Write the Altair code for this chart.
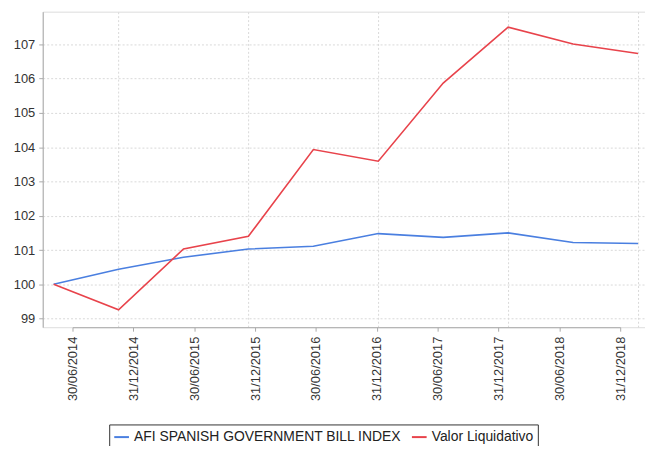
import altair as alt
import pandas as pd

dates = ["30/06/2014", "31/12/2014", "30/06/2015", "31/12/2015", "30/06/2016",
         "31/12/2016", "30/06/2017", "31/12/2017", "30/06/2018", "31/12/2018"]
afi = [100.0, 100.44, 100.79, 101.03, 101.11, 101.48, 101.37, 101.5, 101.22, 101.19]
valor = [100.0, 99.26, 101.03, 101.4, 103.93, 103.59, 105.87, 107.5, 107.01, 106.73]
series_names = ["AFI SPANISH GOVERNMENT BILL INDEX", "Valor Liquidativo"]
colors = ["#4a7fe0", "#e8434b"]

rows = []
for i, d in enumerate(dates):
    rows.append({"idx": i, "date": d, "series": series_names[0], "value": afi[i]})
    rows.append({"idx": i, "date": d, "series": series_names[1], "value": valor[i]})
df = pd.DataFrame(rows)
df_labels = pd.DataFrame({"date": dates})

FONT = "Liberation Sans"

lines = alt.Chart(df).mark_line(strokeWidth=1.6).encode(
    x=alt.X("idx:Q",
            scale=alt.Scale(domain=[-0.168, 9.108], nice=False, zero=False),
            axis=alt.Axis(orient="bottom", values=[1, 3, 5, 7, 9], labels=False,
                          ticks=False, domain=False, grid=True, gridDash=[2, 2],
                          gridColor="#d9d9d9", title=None)),
    y=alt.Y("value:Q",
            scale=alt.Scale(domain=[98.75, 107.95], nice=False, zero=False),
            axis=alt.Axis(values=list(range(99, 108)), title=None, grid=True,
                          gridDash=[2, 2], gridColor="#d9d9d9", tickSize=4,
                          tickColor="#aaaaaa", domainColor="#aaaaaa", labelPadding=4,
                          labelFont=FONT, labelFontSize=13, labelColor="#333333")),
    color=alt.Color("series:N",
                    scale=alt.Scale(domain=series_names, range=colors),
                    legend=alt.Legend(title=None, orient="none", legendX=67, legendY=416,
                                      direction="horizontal", strokeColor="#333333",
                                      fillColor="white", padding=4, symbolType="stroke",
                                      symbolStrokeWidth=2, symbolSize=220,
                                      labelFont=FONT, labelFontSize=14,
                                      labelColor="#222222", columnPadding=6,
                                      symbolOffset=0, labelLimit=400)),
)

labels = alt.Chart(df_labels).mark_point(opacity=0).encode(
    x=alt.X("date:O", sort=None,
            scale=alt.Scale(type="point", range=[30, 582], padding=0),
            axis=alt.Axis(orient="bottom", labelAngle=270, title=None, grid=False,
                          tickSize=4, tickColor="#aaaaaa", domainColor="#aaaaaa",
                          labelPadding=5, labelFont=FONT, labelFontSize=13,
                          labelColor="#333333")),
)

chart = alt.layer(lines, labels).resolve_scale(x="independent").properties(
    width=607, height=318,
    padding={"left": 35, "top": 2, "right": 0, "bottom": 118},
    autosize=alt.AutoSizeParams(type="none"),
).configure_view(stroke="#bbbbbb", strokeWidth=1.5).configure(background="white")

chart.save("out.html", embed_options={"renderer": "svg", "actions": False})
